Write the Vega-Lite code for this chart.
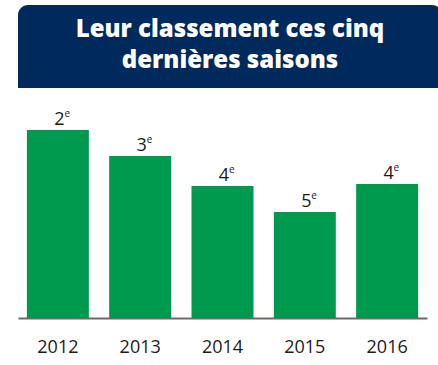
{
  "$schema": "https://vega.github.io/schema/vega-lite/v6.json",
  "padding": {"left": 9, "top": 5, "right": 0, "bottom": 0},
  "background": "white",
  "spacing": 10,
  "config": {"view": {"stroke": null}, "font": "Open Sans"},
  "vconcat": [
    {
      "width": 424,
      "height": 83,
      "data": {"values": [{"titre": "Leur classement ces cinq\ndernières saisons"}]},
      "layer": [
        {
          "mark": {"type": "rect", "color": "#002a5c", "cornerRadiusTopLeft": 10, "cornerRadiusTopRight": 10},
          "encoding": {}
        },
        {
          "mark": {"type": "text", "lineBreak": "\n", "fontSize": 24, "fontWeight": 800, "color": "#ffffff", "baseline": "alphabetic", "align": "center", "lineHeight": 30.5, "dy": -9.5},
          "encoding": {"text": {"field": "titre"}}
        }
      ]
    },
    {
      "width": 409,
      "height": 220,
      "data": {"values": [
        {"annee": "2012", "rang": "2", "hauteur": 188},
        {"annee": "2013", "rang": "3", "hauteur": 162},
        {"annee": "2014", "rang": "4", "hauteur": 132},
        {"annee": "2015", "rang": "5", "hauteur": 106},
        {"annee": "2016", "rang": "4", "hauteur": 134}
      ]},
      "encoding": {
        "x": {
          "field": "annee", "type": "nominal",
          "scale": {"paddingInner": 0.247, "paddingOuter": 0.108},
          "axis": {"title": null, "labelAngle": 0, "ticks": false, "grid": false, "labelFontSize": 18, "labelFontWeight": 500, "labelColor": "#1e1a1b", "labelFont": "Open Sans", "labelPadding": 20, "domainColor": "#6d6a64", "domainWidth": 2}
        },
        "y": {
          "field": "hauteur", "type": "quantitative",
          "scale": {"domain": [0, 220], "nice": false},
          "axis": {"title": null, "labels": false, "ticks": false, "domain": false, "grid": false, "minExtent": 9, "maxExtent": 9}
        }
      },
      "layer": [
        {"mark": {"type": "bar", "color": "#009a4e"}},
        {
          "mark": {"type": "text", "fontSize": 18, "fontWeight": 500, "color": "#1e1a1b", "baseline": "alphabetic", "align": "center", "dx": 1.5, "dy": -5},
          "encoding": {"text": {"field": "rang"}}
        },
        {
          "mark": {"type": "text", "text": "e", "fontSize": 10, "fontWeight": 500, "color": "#1e1a1b", "baseline": "alphabetic", "align": "left", "dx": 6.5, "dy": -13.3}
        }
      ]
    }
  ]
}
